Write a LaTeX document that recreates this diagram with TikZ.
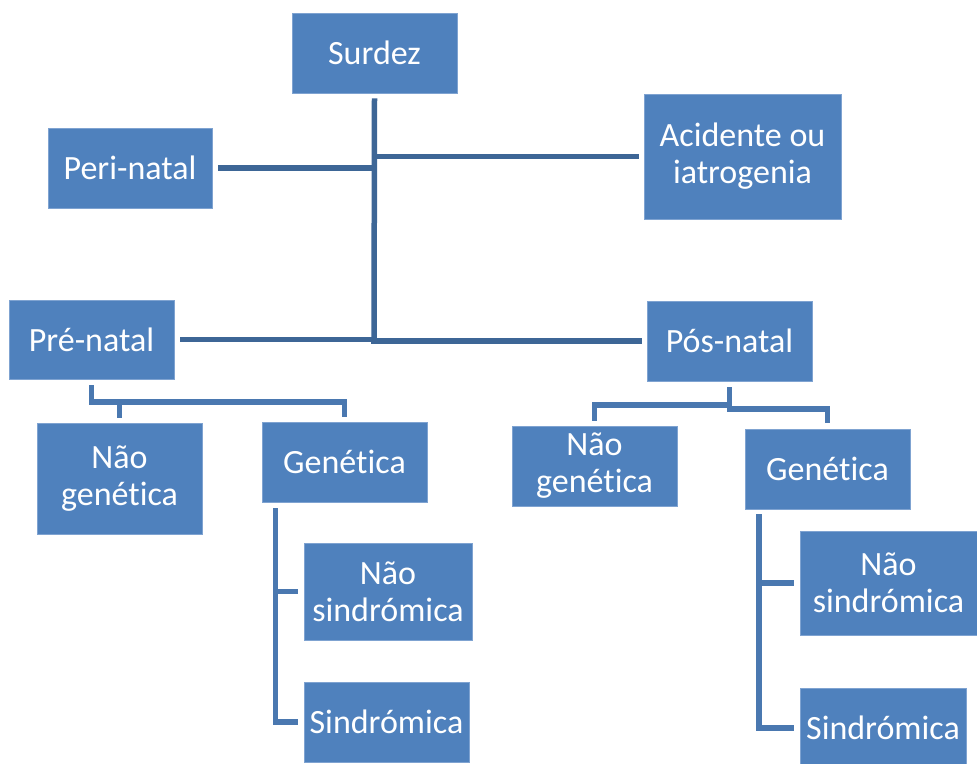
\documentclass[tikz,border=0pt]{standalone}
\usepackage{fontspec}
\setmainfont{Carlito}[Ligatures=NoCommon]
\usetikzlibrary{calc}
\definecolor{boxblue}{HTML}{4F81BD}
\definecolor{boxedge}{HTML}{7FA3D1}
\definecolor{topline}{HTML}{3D6696}
\definecolor{lowline}{HTML}{4A78B0}
\tikzset{
  box/.style={fill=boxblue, draw=boxedge, line width=0.8pt, text=white, align=center,
    inner sep=0pt, font=\fontsize{34}{37}\selectfont},
  topconn/.style={draw=topline, line width=5.5pt},
  lowconn/.style={draw=lowline, line width=5.5pt},
}
\begin{document}
\begin{tikzpicture}[x=1pt,y=-1pt]
\useasboundingbox (0,0) rectangle (977,763);
% boxes
\node[box, minimum width=165pt, minimum height=80pt] (surdez) at (374.5,53) {Surdez};
\node[box, minimum width=164pt, minimum height=80pt] (peri) at (130,168) {Peri-natal};
\node[box, minimum width=197pt, minimum height=125pt] (acid) at (742.5,156.5) {Acidente ou\\iatrogenia};
\node[box, minimum width=165pt, minimum height=79pt] (pre) at (91.5,339.5) {Pré-natal};
\node[box, minimum width=165pt, minimum height=80pt] (pos) at (729.5,341) {Pós-natal};
\node[box, minimum width=165pt, minimum height=111pt] (ng1) at (119.5,478.5) {Não\\genética};
\node[box, minimum width=165pt, minimum height=80pt] (g1) at (344.5,462) {Genética};
\node[box, minimum width=165pt, minimum height=80pt] (ng2) at (594.5,466) {Não\\genética};
\node[box, minimum width=165pt, minimum height=80pt] (g2) at (827.5,469) {Genética};
\node[box, minimum width=168pt, minimum height=97pt] (ns1) at (388,591.5) {Não\\sindrómica};
\node[box, minimum width=165pt, minimum height=80pt] (s1) at (386.5,722) {Sindrómica};
\node[box, minimum width=177pt, minimum height=104pt] (ns2) at (888.5,583) {Não\\sindrómica};
\node[box, minimum width=166pt, minimum height=80pt] (s2) at (883,728) {Sindrómica};
% trunk
\coordinate (tb) at (374,343);
\draw[topconn] ([yshift=-5pt]surdez.south) -- (tb);
\draw[topconn] ([xshift=6pt]peri.east) -- (peri.east -| tb);
\draw[topconn] (acid.west -| tb) -- ([xshift=-5pt]acid.west);
\draw[topconn] ([xshift=6pt]pre.east) -- (pre.east -| tb);
\draw[topconn] ([xshift=-2.75pt]pos.west -| tb) -- ([xshift=-5pt]pos.west);
% pre-natal children
\coordinate (lb1) at (92,402);
\draw[lowconn] ([yshift=-6pt]pre.south) -- (pre.south |- lb1) -| ([yshift=5pt]g1.north);
\draw[lowconn] (ng1.north |- lb1) -- ([yshift=5pt]ng1.north);
% pos-natal children
\coordinate (lb2) at (729.5,405);
\coordinate (lb3) at (729.5,409);
\draw[lowconn] ([yshift=-6pt]pos.south) -- (pos.south |- lb3) -| ([yshift=6pt]g2.north);
\draw[lowconn] (pos.south |- lb2) -| ([yshift=5pt]ng2.north);
% genetica left children
\coordinate (v1) at (275.5,508);
\draw[lowconn] (v1) |- ([xshift=-6pt]s1.west);
\draw[lowconn] (v1 |- ns1.west) -- ([xshift=-6pt]ns1.west);
% genetica right children
\coordinate (v2) at (759,514);
\draw[lowconn] (v2) |- ([xshift=-6pt]s2.west);
\draw[lowconn] (v2 |- ns2.west) -- ([xshift=-6pt]ns2.west);
\end{tikzpicture}
\end{document}
